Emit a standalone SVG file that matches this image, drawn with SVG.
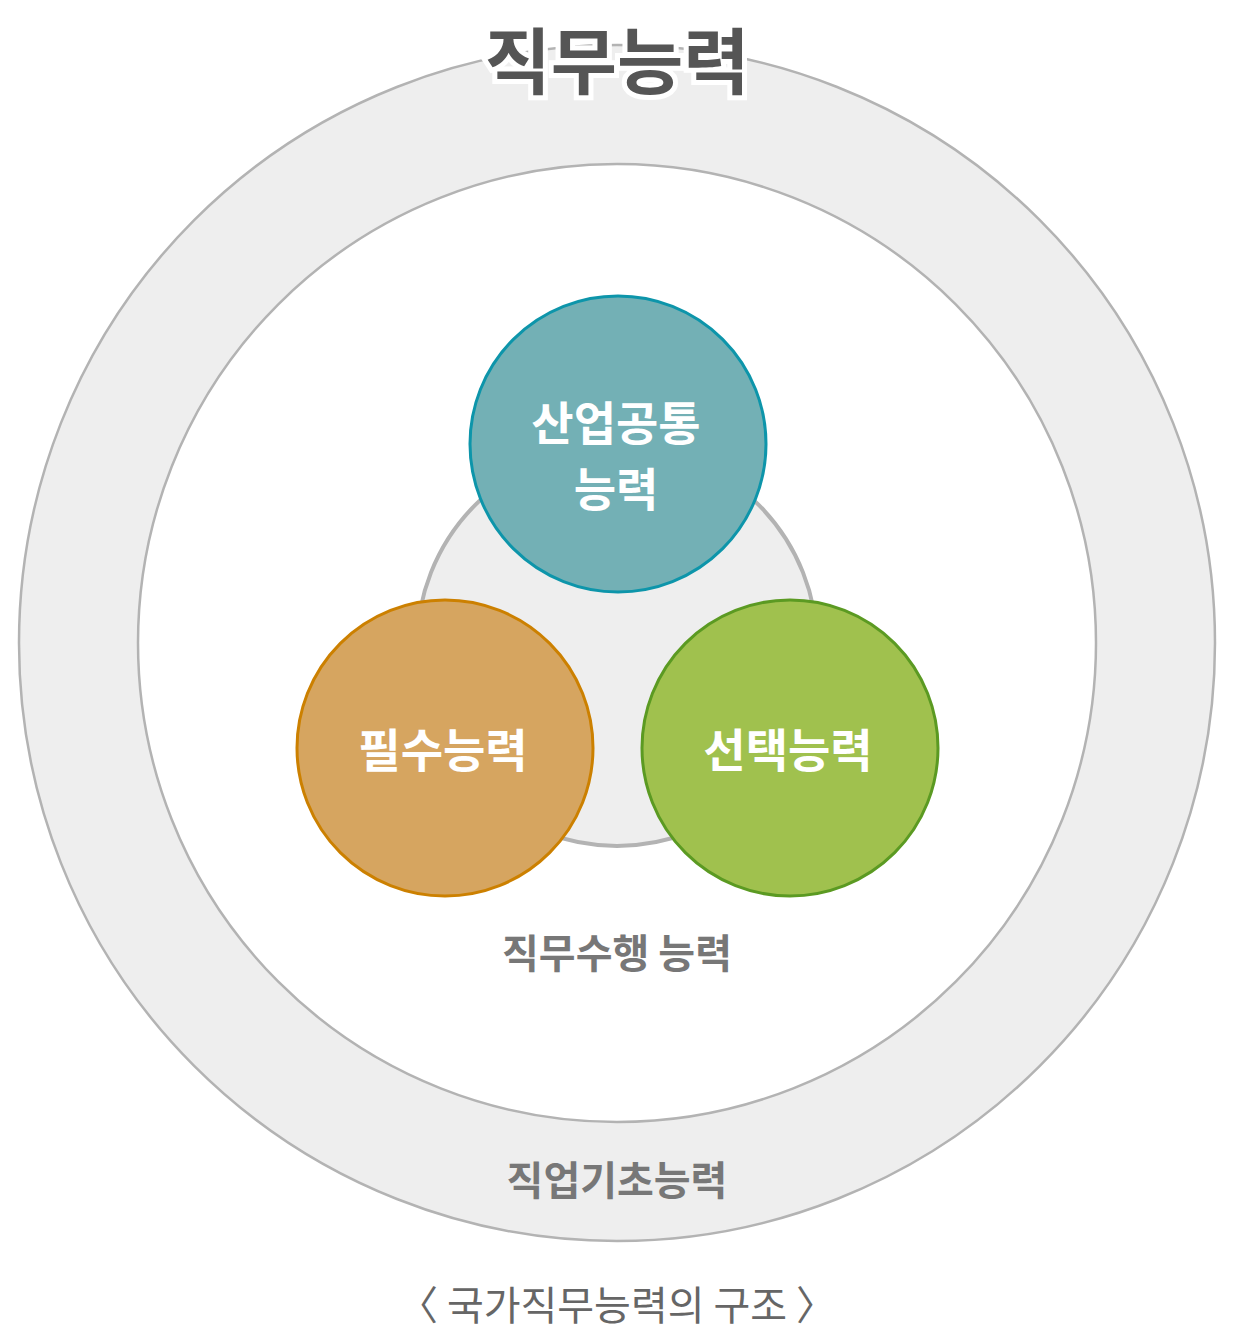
<svg xmlns="http://www.w3.org/2000/svg" width="1235" height="1343" viewBox="0 0 1235 1343">
<style>
.t{font-family:"Noto Sans CJK KR","Noto Sans",sans-serif;text-anchor:middle;font-weight:bold}
.w{fill:#fff;font-size:46px}
.g{fill:#777;font-size:40px}
</style>
<rect width="1235" height="1343" fill="#fff"/>
<g id="outer"><circle cx="617" cy="643" r="598" fill="#eeeeee" stroke="#b3b3b3" stroke-width="2.5"/>
<circle cx="617" cy="643" r="479" fill="#fff" stroke="#b3b3b3" stroke-width="2.5"/>
<text class="t" x="617" y="88" font-size="72" fill="#555" stroke="#fff" stroke-width="10" paint-order="stroke">직무능력</text>
<text class="t g" x="617" y="1195" font-size="42">직업기초능력</text></g>
<g id="middle"><circle cx="617" cy="646" r="200" fill="#eeeeee" stroke="#b3b3b3" stroke-width="4"/>
<text class="t g" x="617" y="968">직무수행 능력</text></g>
<g id="top"><circle cx="618" cy="444" r="148" fill="#73b0b5" stroke="#0d95aa" stroke-width="3"/>
<text class="t w" x="616" y="440">산업공통</text><text class="t w" x="616" y="506">능력</text></g>
<g id="left"><circle cx="445" cy="748" r="148" fill="#d6a560" stroke="#cc8000" stroke-width="3"/>
<text class="t w" x="443" y="767">필수능력</text></g>
<g id="right"><circle cx="790" cy="748" r="148" fill="#a0c14e" stroke="#5b9a22" stroke-width="3"/>
<text class="t w" x="788" y="767">선택능력</text></g>
<text x="617" y="1320" font-family="Noto Sans CJK KR,sans-serif" font-size="40" fill="#666" text-anchor="middle">〈 국가직무능력의 구조 〉</text>
</svg>
